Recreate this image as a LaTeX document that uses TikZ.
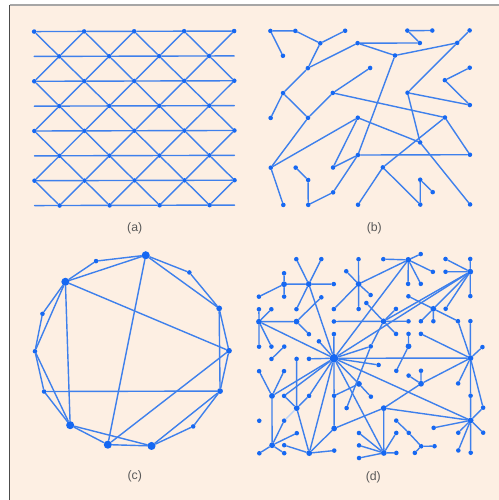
\documentclass[tikz,border=0pt]{standalone}
\usepackage{fontspec}
\setmainfont{Liberation Sans}
\definecolor{fond}{HTML}{FDEFE3}
\definecolor{lienbleu}{HTML}{3E80EC}
\definecolor{noeudbleu}{HTML}{1668F2}
\begin{document}
\begin{tikzpicture}[x=0.02cm, y=-0.02cm,
	pt/.style={circle, fill=noeudbleu, inner sep=0pt, minimum size=2.6pt},
	moyen/.style={pt, minimum size=3.3pt},
	gros/.style={pt, minimum size=4.6pt},
	lien/.style={draw=lienbleu, line width=0.8pt, line cap=round},
	etiq/.style={font=\fontsize{7}{8}\selectfont, text=black!65}]%quatre reseaux
	
	\useasboundingbox (0,0) rectangle (499,500);
	\fill[fond] (9.5,5) rectangle (499,500);
	\draw[black!35, line width=0.6pt] (9.5,5) -- (499,5);
	\draw[black!70, line width=0.6pt] (9.5,5) -- (9.5,500);
	
	\begin{scope}[rotate around={0.15:(250,250)}]
	% (a) reseau triangulaire
	\foreach \j in {0,2,4,6} {
		\foreach \k in {0,...,4} {
			\node[pt] (a-\j-\k) at ({34.7+50*\k},{31+24.86*\j}) {};}}
	\foreach \j in {1,3,5,7} {
		\coordinate (a-\j-g) at (34.7,{31+24.86*\j});
		\coordinate (a-\j-d) at (234.7,{31+24.86*\j});
		\foreach \k in {0,...,3} {
			\node[pt] (a-\j-\k) at ({59.7+50*\k},{31+24.86*\j}) {};}}
	\foreach \j in {0,2,4,6} {
		\draw[lien] (a-\j-0) -- (a-\j-1) -- (a-\j-2) -- (a-\j-3) -- (a-\j-4);}
	\foreach \j in {1,3,5,7} {
		\draw[lien] (a-\j-g) -- (a-\j-0) -- (a-\j-1) -- (a-\j-2) -- (a-\j-3) -- (a-\j-d);
		\pgfmathtruncatemacro{\jh}{\j-1}
		\foreach \k in {0,...,3} {
			\pgfmathtruncatemacro{\kk}{\k+1}
			\draw[lien] (a-\jh-\k) -- (a-\j-\k) -- (a-\jh-\kk);}}
	\foreach \j in {1,3,5} {
		\pgfmathtruncatemacro{\jb}{\j+1}
		\foreach \k in {0,...,3} {
			\pgfmathtruncatemacro{\kk}{\k+1}
			\draw[lien] (a-\jb-\k) -- (a-\j-\k) -- (a-\jb-\kk);}}
	
	% (b) reseau aleatoire
	\foreach \n/\i/\j in {1/0/0, 2/2/0, 3/6/0, 4/1/2, 5/4/1, 6/7/1, 7/11/0, 8/13/0,
		9/12/1, 10/16/0, 11/15/1, 12/10/2, 13/3/3, 14/8/3, 15/16/3, 16/14/4,
		17/1/5, 18/5/5, 19/11/5, 20/16/6, 21/0/7, 22/3/7, 23/7/7, 24/14/7,
		25/12/9, 26/7/10, 27/16/10, 28/0/11, 29/2/11, 30/5/11, 31/9/11, 32/3/12,
		33/12/12, 34/13/13, 35/5/13, 36/1/14, 37/3/14, 38/7/14, 39/12/14, 40/16/14} {
		\node[pt] (b\n) at ({271+12.45*\i},{31+12.43*\j}) {};}
	\foreach \u/\v in {1/2, 1/4, 2/5, 3/5, 5/13, 13/6, 6/9, 6/12, 7/8, 7/9,
		12/11, 11/10, 11/19, 12/26, 13/17, 17/21, 17/22, 22/18, 18/14, 18/24,
		22/28, 28/23, 23/30, 30/26, 23/25, 26/27, 26/35, 35/37, 37/32, 32/29,
		28/36, 19/20, 19/25, 16/15, 16/20, 24/27, 25/40, 24/31, 31/38, 31/39,
		39/33, 33/34} {
		\draw[lien] (b\u) -- (b\v);}
	
	% (c) anneau avec raccourcis
	\foreach \n/\x/\y/\s in {0/228.7/350.7/moyen, 1/219/308.3/moyen, 2/189.3/272.3/pt,
		3/145.7/255/gros, 4/96/260.7/pt, 5/65.3/281.3/gros, 6/42.3/313.3/pt,
		7/34.7/350.7/pt, 8/43.7/391/pt, 9/69.7/424.7/gros, 10/107.3/444.3/gros,
		11/151/445.7/gros, 12/192.7/426.3/pt, 13/219.7/391/moyen} {
		\node[\s] (r\n) at (\x,\y) {};}
	\foreach \u/\v in {0/1, 1/2, 2/3, 3/4, 4/5, 5/6, 6/7, 7/8, 8/9, 9/10,
		10/11, 11/12, 12/13, 13/0, 1/3, 3/5, 5/7, 7/9, 9/11, 11/13, 13/1,
		5/0, 5/9, 3/10, 10/0, 8/13} {
		\draw[lien] (r\u) -- (r\v);}
	
	% (d) reseau sans echelle
	\node[gros, minimum size=5pt] (hub) at (333.7,358.5) {};
	\foreach \n/\x/\y/\s in {1/296.3/259.3/pt, 2/321.3/259.3/pt, 3/358.5/259.5/pt,
		4/284/273.3/pt, 5/346.2/271.5/pt, 6/284/284.3/moyen, 7/308.7/284.3/moyen,
		8/333.7/284.3/pt, 9/358.5/284.3/moyen, 10/258.8/296.7/pt, 11/284/296.7/pt,
		12/321.2/297.5/pt, 13/370.5/295.3/pt, 14/366.2/303.3/pt, 15/258.8/309.3/pt,
		16/271.2/309.3/pt, 17/296.3/309.3/pt, 18/333.7/309.3/pt, 19/358.5/309.3/pt,
		20/258.8/321.7/moyen, 21/296.3/321.7/moyen, 22/333.7/321.7/pt,
		23/308.7/334.3/pt, 24/333.7/334.3/pt, 25/318.7/341.5/pt, 26/258.8/346.7/pt,
		27/271.2/346.7/pt, 28/284/346.7/pt, 29/370.5/346.7/pt, 30/271.2/359/pt,
		31/296.3/359/pt, 32/308.7/359/pt} {
		\node[\s] (tl\n) at (\x,\y) {};}
	\foreach \n/\x/\y/\s in {1/383.3/259.5/pt, 2/408.3/260.3/moyen, 3/420.7/254.5/pt,
		4/445.5/259.5/pt, 5/470.2/259.5/pt, 6/432.8/272.3/pt, 7/445.5/272.3/pt,
		8/470.2/272.3/moyen, 9/408/284.3/pt, 10/420.7/284.3/pt, 11/408.3/296.7/pt,
		12/470.2/296.7/pt, 13/395.8/309.3/pt, 14/433.2/309.3/moyen, 15/445.5/309.3/pt,
		16/383.3/321.7/moyen, 17/408.3/321.7/pt, 18/420.7/321.7/pt, 19/433.2/321.7/pt,
		20/457.8/321.7/pt, 21/470.2/321.7/pt, 22/395.8/334.3/pt, 23/408.3/334.3/pt,
		24/420.7/334.3/pt, 25/408.3/346.7/moyen, 26/482.2/347.7/pt, 27/470.2/358.7/moyen} {
		\node[\s] (tr\n) at (\x,\y) {};}
	\foreach \n/\x/\y/\s in {1/258.8/371.2/pt, 2/283.7/371.2/pt, 3/358.6/384.2/moyen,
		4/271.6/396/moyen, 5/283.7/396/pt, 6/308.7/396/pt, 7/333.7/396/pt, 8/370.5/397/pt,
		9/296.3/408.3/moyen, 10/346.2/408.3/pt, 11/258.8/420.8/pt, 12/283.7/420.8/pt,
		13/333.7/428.7/moyen, 14/296.3/433.3/pt, 15/358.5/433.3/pt, 16/271.6/445.3/moyen,
		17/283.7/445.3/pt, 18/358.5/445.7/pt, 19/258.8/453.3/pt, 20/283.7/453.3/pt,
		21/308.7/453.3/moyen, 22/333.7/450.8/pt, 23/358.5/458.3/pt} {
		\node[\s] (bl\n) at (\x,\y) {};}
	\foreach \n/\x/\y/\s in {1/378.3/365.3/pt, 2/396/371.2/pt, 3/420.7/371.2/pt,
		4/408.3/376/pt, 5/420.7/384.2/moyen, 6/457.8/384/pt, 7/470.2/396.3/pt,
		8/383.3/408.5/moyen, 9/482.7/408.3/pt, 10/470.2/421/moyen, 11/395.8/421/pt,
		12/433.2/428.3/pt, 13/395.8/433.3/pt, 14/408.3/433.3/pt, 15/457.8/433.3/pt,
		16/482.7/433.3/pt, 17/420.7/446.7/pt, 18/434/446.7/pt, 19/383.3/453.3/moyen,
		20/395.8/453.3/pt, 21/414.3/453.3/pt, 22/457.8/451/pt, 23/470.2/453.3/pt} {
		\node[\s] (br\n) at (\x,\y) {};}
	\foreach \v in {tl7, tl20, tl24, tl25, tl29, tl32, tr2, tr8, tr27, br1, br10,
		br19, bl3, bl4, bl5, bl6, bl7, bl21} {
		\draw[lien] (hub) -- (\v);}
	\foreach \u/\v in {tl1/tl7, tl2/tl7, tl8/tl7, tl6/tl7, tl4/tl6, tl11/tl6,
		tl10/tl6, tl17/tl7, tl12/tl21, tl21/tl23, tl20/tl21, tl20/tl15, tl20/tl16,
		tl20/tl26, tl20/tl27, tl22/tr16, tl9/tl3, tl9/tl5, tl9/tl19, tl9/tl13,
		tl9/tl18, tl9/tr2, tl14/tr16, tl29/tr16, tl29/bl10, tl28/tl30, tl31/bl9,
		tr2/tr1, tr2/tr3, tr2/tr6, tr2/tr9, tr2/tr10, tr8/tr4, tr8/tr7, tr8/tr5,
		tr8/tr12, tr8/tr14, tr8/tr15, tr8/tr16, tr14/tr11, tr14/tr18, tr14/tr19,
		tr14/tr20, tr16/tr13, tr16/tr17, tr16/tr22, tr27/tr20, tr27/tr21,
		tr27/tr24, tr27/tr26, tr25/tr23, tr25/br2, tr27/br5, tr27/br6, tr27/br7,
		tr27/br9, bl3/bl7, bl3/bl8, bl4/bl1, bl4/bl2, bl4/bl16, bl5/bl9, bl6/bl9,
		bl9/bl21, bl7/bl13, bl13/bl21, bl13/br8, bl16/bl19, bl16/bl20, bl16/bl14,
		bl16/bl12, bl17/bl21, bl21/bl22, bl15/br19, bl18/br19, bl23/br19,
		br5/br3, br5/br4, br5/br8, br8/br10, br8/br19, br7/br10, br9/br10,
		br10/br12, br10/br15, br10/br16, br10/br22, br10/br23, br19/br13,
		br19/br20, br11/br14, br14/br17, br17/br18, br17/br21} {
		\draw[lien] (\u) -- (\v);}
	\draw[lien, draw=lienbleu!35] (bl9) -- (bl12);
	\end{scope}
	
	\node[etiq] (la) at (134.7,228.3) {(a)};
	\node[etiq] (lb) at (374.3,228.3) {(b)};
	\node[etiq] (lc) at (134.7,476.7) {(c)};
	\node[etiq] (ld) at (373.3,477.3) {(d)};
\end{tikzpicture}
\end{document}
